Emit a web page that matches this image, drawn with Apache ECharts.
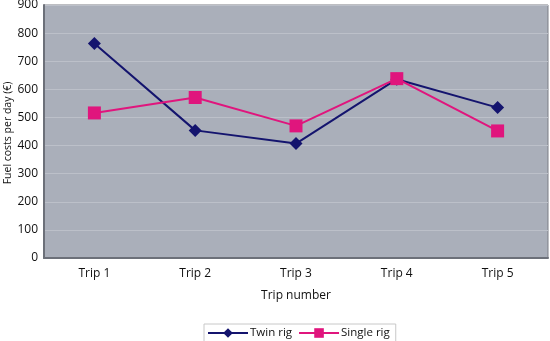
<!DOCTYPE html>
<html><head><meta charset="utf-8">
<script src="https://cdn.jsdelivr.net/npm/echarts@6/dist/echarts.min.js"></script>
<style>html,body{margin:0;padding:0;background:#fff}#c{width:550px;height:341px}</style>
</head><body><div id="c"></div>
<script>
const categories = ['Trip 1','Trip 2','Trip 3','Trip 4','Trip 5'];
const twinRig = [763, 454, 407, 636, 535];
const singleRig = [516, 571, 470, 638, 452];
const seriesNames = ['Twin rig','Single rig'];
const yAxisTitle = 'Fuel costs per day (€)';
const xAxisTitle = 'Trip number';
const fontFam = '"Open Sans", "Noto Sans", sans-serif';
const chart = echarts.init(document.getElementById('c'), null, {renderer:'canvas'});
chart.setOption({
  animation:false,
  textStyle:{fontFamily:fontFam},
  grid:{left:44,right:2,top:5,bottom:83,containLabel:false,outerBoundsMode:'none',show:true,backgroundColor:'#aaafba',borderColor:'#7a7d85',borderWidth:1},
  legend:{
    data:seriesNames, bottom:-1, left:204,
    itemWidth:40, itemHeight:12, itemGap:6,
    borderColor:'#c8c8c8', borderWidth:1, padding:[3,6,3,3],
    textStyle:{fontSize:11.5,color:'#111',fontFamily:fontFam,padding:[0,0,0,-3]}
  },
  graphic:[{
    type:'text', x:8, y:133, rotation:Math.PI/2,
    style:{text:yAxisTitle, fontSize:10.5, fontFamily:fontFam, fill:'#111', align:'center', verticalAlign:'middle'}
  }],
  xAxis:{
    type:'category', data:categories, boundaryGap:true,
    name:xAxisTitle, nameLocation:'middle', nameGap:32,
    nameTextStyle:{fontSize:12,color:'#111'},
    axisLine:{lineStyle:{color:'#6c7079',width:2}},
    axisTick:{show:false},
    axisLabel:{fontSize:12,color:'#111',margin:10}
  },
  yAxis:{
    type:'value', min:0, max:900, interval:100,
    axisLine:{show:true,lineStyle:{color:'#6c7079',width:2}},
    axisTick:{show:false},
    axisLabel:{fontSize:12,color:'#111',margin:6},
    splitLine:{lineStyle:{color:'#bcc0c9',width:1}}
  },
  series:[
    {name:seriesNames[0], type:'line', data:twinRig, symbol:'diamond', symbolSize:13,
     lineStyle:{color:'#14146e',width:2}, itemStyle:{color:'#14146e'}},
    {name:seriesNames[1], type:'line', data:singleRig, symbol:'rect', symbolSize:13,
     lineStyle:{color:'#e0157d',width:2}, itemStyle:{color:'#e0157d'}}
  ]
});
</script></body></html>
